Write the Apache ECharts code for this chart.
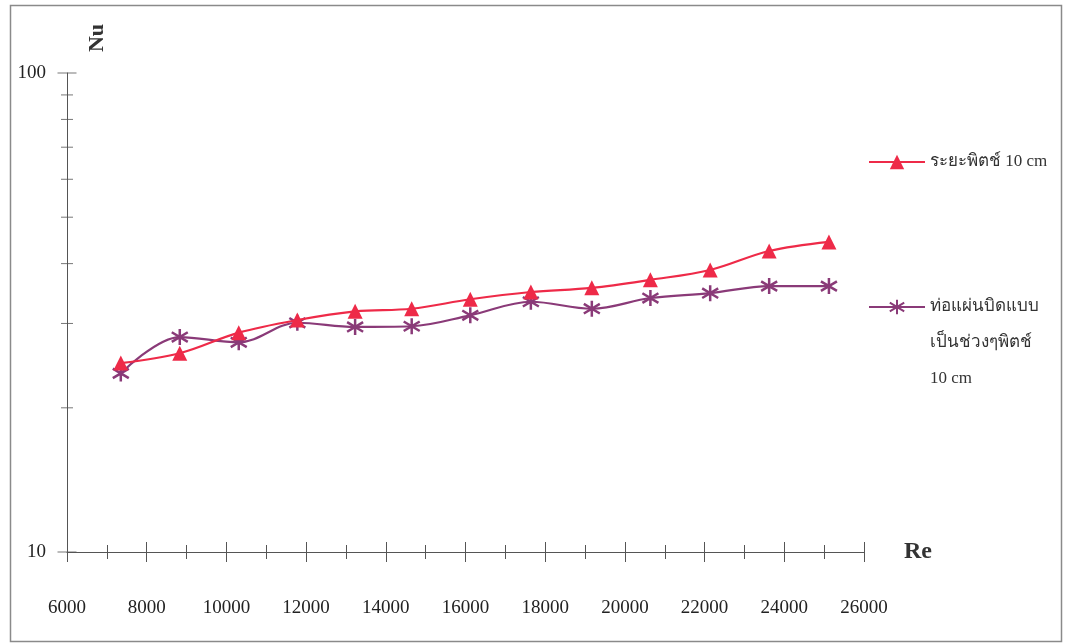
<!DOCTYPE html>
<html>
<head>
<meta charset="utf-8">
<script src="https://cdn.jsdelivr.net/npm/echarts@6/dist/echarts.min.js"></script>
<style>
html,body{margin:0;padding:0;background:#fff;}
#chart{width:1067px;height:644px;}
</style>
</head>
<body>
<div id="chart"></div>
<script>
// ---- data ----
var reValues = [7350, 8830, 10310, 11780, 13230, 14650, 16120, 17640, 19170, 20640, 22140, 23620, 25120];
var nuPitch10 = [24.8, 26.0, 28.7, 30.5, 31.8, 32.2, 33.7, 34.9, 35.6, 37.0, 38.8, 42.5, 44.4];
var nuTwisted10 = [23.6, 28.1, 27.4, 30.1, 29.5, 29.6, 31.2, 33.3, 32.2, 33.9, 34.7, 35.9, 35.9];
var seriesNames = ['ระยะพิตช์ 10 cm', 'ท่อแผ่นบิดแบบเป็นช่วงๆพิตช์ 10 cm'];
var legendLines2 = ['ท่อแผ่นบิดแบบ', 'เป็นช่วงๆพิตช์', '10 cm'];
var yMajorTicks = [10, 100];
var yMinorTicks = [20, 30, 40, 50, 60, 70, 80, 90];
var xMin = 6000, xMax = 26000, xInterval = 2000;

var FONT = "'Liberation Serif', 'Times New Roman', 'DejaVu Serif', serif";
var AXIS_COLOR = '#555';
var RED = '#ee2a48';
var PURPLE = '#8a3a78';
var ASTERISK = 'path://M10 0 L10 20 M1.5 4 L18.5 16 M1.5 16 L18.5 4';

function pairs(xs, ys) { return xs.map(function (x, i) { return [x, ys[i]]; }); }
function tickPts(vals) { return vals.map(function (v) { return [xMin, v]; }); }

var chart = echarts.init(document.getElementById('chart'), null, {renderer: 'canvas'});
chart.setOption({
  backgroundColor: '#fff',
  animation: false,
  grid: {left: 67, right: 203, top: 73, bottom: 92, containLabel: false},
  xAxis: [{
    type: 'value', min: xMin, max: xMax, interval: xInterval,
    position: 'bottom',
    name: 'Re', nameLocation: 'end', nameGap: 40,
    nameTextStyle: {fontFamily: FONT, fontSize: 24, fontWeight: 'bold', color: '#333', verticalAlign: 'middle', padding: [0, 0, 6, 0]},
    axisLine: {show: true, onZero: false, lineStyle: {color: AXIS_COLOR, width: 1}},
    axisTick: {show: true, length: 10, lineStyle: {color: AXIS_COLOR}},
    minorTick: {show: true, splitNumber: 2, length: 7, lineStyle: {color: AXIS_COLOR}},
    axisLabel: {margin: 47, fontFamily: FONT, fontSize: 19, color: '#222', formatter: function (v) { return String(v); }},
    splitLine: {show: false}
  }, {
    type: 'value', min: xMin, max: xMax, interval: xInterval,
    position: 'bottom', gridIndex: 0,
    axisLine: {show: false, onZero: false},
    axisTick: {show: true, inside: true, length: 10, lineStyle: {color: AXIS_COLOR}},
    minorTick: {show: true, splitNumber: 2, length: 7, lineStyle: {color: AXIS_COLOR}},
    axisLabel: {show: false},
    splitLine: {show: false}
  }],
  yAxis: [{
    type: 'log', logBase: 10, min: 10, max: 100,
    axisLine: {show: true, onZero: false, lineStyle: {color: AXIS_COLOR, width: 1}},
    axisTick: {show: false},
    axisLabel: {margin: 21, fontFamily: FONT, fontSize: 19, color: '#222'},
    splitLine: {show: false}
  }],
  legend: [{
    data: [seriesNames[0]],
    orient: 'vertical', left: 868, top: 144, padding: 0,
    itemWidth: 56, itemHeight: 18,
    textStyle: {fontFamily: FONT, fontSize: 17, color: '#333', lineHeight: 36}
  }, {
    data: [seriesNames[1]],
    orient: 'vertical', left: 868, top: 217, padding: 0,
    itemWidth: 56, itemHeight: 18,
    textStyle: {fontFamily: FONT, fontSize: 17, color: '#333', lineHeight: 36},
    formatter: function () { return '\n\n' + legendLines2.join('\n'); }
  }],
  graphic: [{
    type: 'rect', silent: true, z: -1,
    shape: {x: 10.5, y: 5.5, width: 1051, height: 636},
    style: {fill: 'none', stroke: '#8a8a8a', lineWidth: 1.5}
  }, {
    type: 'text', silent: true,
    x: 97, y: 38, rotation: Math.PI / 2,
    style: {text: 'Nu', fontFamily: FONT, fontSize: 22, fontWeight: 'bold', fill: '#333', align: 'center', verticalAlign: 'middle'}
  }],
  series: [{
    name: seriesNames[0], type: 'line', smooth: 0.35,
    data: pairs(reValues, nuPitch10),
    symbol: 'triangle', symbolSize: 15,
    lineStyle: {color: RED, width: 2.2},
    itemStyle: {color: RED},
    z: 3
  }, {
    name: seriesNames[1], type: 'line', smooth: 0.35,
    data: pairs(reValues, nuTwisted10),
    symbol: ASTERISK, symbolSize: 16,
    lineStyle: {color: PURPLE, width: 2.2},
    itemStyle: {color: PURPLE, borderColor: PURPLE, borderWidth: 2.5},
    z: 2
  }, {
    type: 'scatter', silent: true, clip: false,
    data: tickPts(yMajorTicks), symbol: 'rect', symbolSize: [19, 1],
    itemStyle: {color: AXIS_COLOR}, z: 1
  }, {
    type: 'scatter', silent: true, clip: false,
    data: tickPts(yMinorTicks), symbol: 'rect', symbolSize: [12, 1],
    itemStyle: {color: AXIS_COLOR}, z: 1
  }]
});
</script>
</body>
</html>
